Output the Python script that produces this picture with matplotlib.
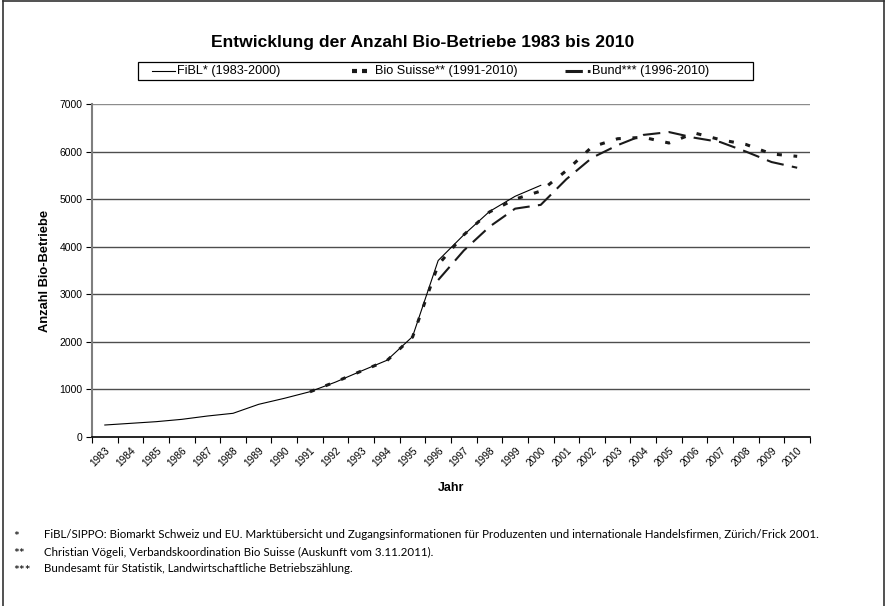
import numpy as np
import matplotlib
matplotlib.use("Agg")
import matplotlib.pyplot as plt
from matplotlib.lines import Line2D
from matplotlib.patches import Rectangle

plt.rcParams['font.family'] = ['Liberation Sans', 'DejaVu Sans']
plt.rcParams['lines.scale_dashes'] = False

# data
years = list(range(1983, 2011))
fibl_years = list(range(1983, 2001))
fibl = [252, 287, 322, 371, 441, 498, 687, 813, 952, 1155, 1387, 1612, 2110, 3710,
        4250, 4740, 5060, 5290]
bio_years = list(range(1991, 2011))
bio_suisse = [950, 1160, 1385, 1605, 2100, 3620, 4250, 4730, 5000, 5170, 5600, 6100,
              6270, 6300, 6180, 6390, 6250, 6150, 5950, 5900]
bund_years = list(range(1996, 2011))
bund = [3300, 3920, 4420, 4800, 4880, 5420, 5870, 6135, 6350, 6410, 6290, 6200,
        6000, 5780, 5660]

labels = ["FiBL* (1983-2000)", "Bio Suisse** (1991-2010)", "Bund*** (1996-2010)"]
footnotes = [
    ("*", "FiBL/SIPPO: Biomarkt Schweiz und EU. Marktübersicht und Zugangsinformationen für Produzenten und internationale Handelsfirmen, Zürich/Frick 2001."),
    ("**", "Christian Vögeli, Verbandskoordination Bio Suisse (Auskunft vom 3.11.2011)."),
    ("***", "Bundesamt für Statistik, Landwirtschaftliche Betriebszählung."),
]

W, H = 887, 606
fig = plt.figure(figsize=(W / 100, H / 100), dpi=100)


def fx(px):
    return px / W


def fy(py):
    return 1 - py / H


ax = fig.add_axes([fx(92), fy(437), fx(810) - fx(92), fy(104) - fy(437)])

idx = {y: i for i, y in enumerate(years)}
styles = [
    dict(color='black', lw=0.8, ls='-'),
    dict(color='#1a1a1a', lw=2.2, dashes=(3.6, 8.4)),
    dict(color='#1a1a1a', lw=1.5, dashes=(12.5, 6.0)),
]
series = [(fibl_years, fibl), (bio_years, bio_suisse), (bund_years, bund)]
for (yrs, vals), st in zip(series, styles):
    ax.plot([idx[y] for y in yrs], vals, solid_joinstyle='miter', **st)

ax.set_xlim(-0.5, len(years) - 0.5)
ax.set_ylim(0, 7000)
ax.set_yticks(np.arange(0, 7001, 1000))
ax.set_xticks(range(len(years)))
ax.set_xticklabels([str(y) for y in years], rotation=45, ha='right',
                   rotation_mode='anchor', fontsize=7.3)
ax.set_xticks(np.arange(-0.5, len(years)), minor=True)
ax.tick_params(axis='x', which='major', length=0, pad=6)
ax.tick_params(axis='x', which='minor', length=4, width=0.8, direction='out')
ax.tick_params(axis='y', length=4, width=0.8, labelsize=7.5, pad=3)
for y in range(1000, 7001, 1000):
    ax.axhline(y, color='#4d4d4d' if y < 7000 else '#8c8c8c', lw=1.0, zorder=0)

for s in ['top', 'right']:
    ax.spines[s].set_visible(False)
ax.spines['left'].set_color('#7f7f7f')
ax.spines['left'].set_linewidth(1.5)
ax.spines['bottom'].set_color('black')
ax.spines['bottom'].set_linewidth(1.2)

ax.set_ylabel("Anzahl Bio-Betriebe", fontsize=9.3, fontweight='bold', labelpad=6)
fig.text(fx(451), fy(488), "Jahr", fontsize=9, fontweight='bold', ha='center', va='center')

fig.text(fx(423), fy(42), "Entwicklung der Anzahl Bio-Betriebe 1983 bis 2010",
         fontsize=12.6, fontweight='bold', ha='center', va='center')

# legend box drawn by hand
fig.add_artist(Rectangle((fx(138), fy(80)), fx(753) - fx(138), fy(62) - fy(80),
                         transform=fig.transFigure, fill=False, ec='black', lw=0.9))
leg_x = [(152, 175, 177), (352, 372, 375), (565, 590, 592)]
leg_styles = [
    dict(color='black', lw=0.8, ls='-'),
    dict(color='#1a1a1a', lw=3.0, dashes=(3.6, 3.6)),
    dict(color='#1a1a1a', lw=2.2, dashes=(12.5, 3.6)),
]
for (x0, x1, xt), st, lab in zip(leg_x, leg_styles, labels):
    fig.add_artist(Line2D([fx(x0), fx(x1)], [fy(71), fy(71)],
                          transform=fig.transFigure, **st))
    fig.text(fx(xt), fy(71), lab, fontsize=9.1, ha='left', va='center')

# footnotes
for i, (mark, txt) in enumerate(footnotes):
    yy = fy(535 + 17 * i)
    fig.text(fx(13), yy - 0.003, mark, fontsize=10, family='Lato', ha='left', va='center')
    fig.text(fx(44), yy, txt, fontsize=8.3, family='Lato', ha='left', va='center')

# outer frame
for xs, ys in [((3, 3), (1, H)), ((3, 884), (1, 1)), ((884, 884), (1, H))]:
    fig.add_artist(Line2D([fx(xs[0]), fx(xs[1])], [fy(ys[0]), fy(ys[1])],
                          transform=fig.transFigure, color='#333333', lw=1.2))

fig.savefig("out.png", dpi=100)
